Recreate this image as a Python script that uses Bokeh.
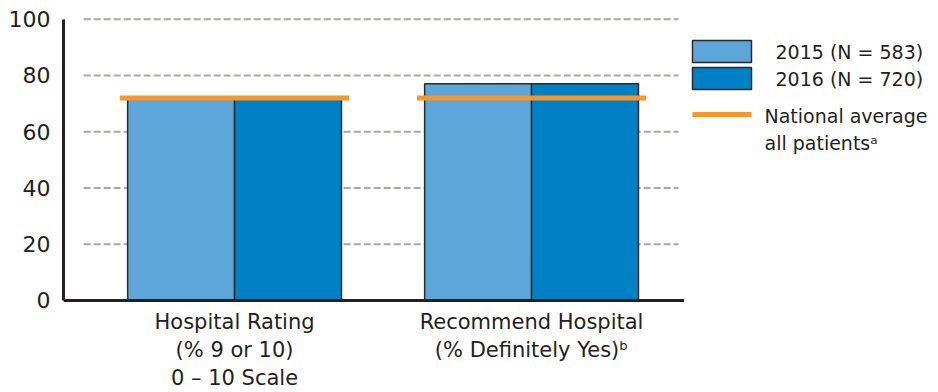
from bokeh.plotting import figure
from bokeh.models import Range1d, FixedTicker
from bokeh.layouts import row
from bokeh.embed import file_html
from bokeh.resources import INLINE
from bokeh.core.properties import value

# ---- data ----
categories = ["Hospital Rating", "Recommend Hospital"]
category_lines = [["Hospital Rating", "(% 9 or 10)", "0 \u2013 10 Scale"],
                  ["Recommend Hospital", "(% Definitely Yes)\u1d47"]]
vals_2015 = [72, 77]
vals_2016 = [72, 77]
national_avg = [72, 72]
y_ticks = [0, 20, 40, 60, 80, 100]
series_labels = ["2015 (N = 583)", "2016 (N = 720)"]
avg_label_lines = ["National average", "all patients\u1d43"]

# ---- style ----
FONT = "DejaVu Sans"
TXT = "#231f20"
C2015 = "#5ca6da"
C2016 = "#0081c6"
ORANGE = "#f7962b"
GRID = "#a9a9a3"
EDGE = "#2a2a2a"

xs = list(range(len(categories)))
bar_w = 0.36
avg_half = 0.386
X0, X1 = -0.576, 1.515

p = figure(width=684, height=392, x_range=Range1d(X0, X1), y_range=Range1d(-32.70, 106.62),
           output_backend="svg", toolbar_location=None,
           min_border_left=63, min_border_right=0, min_border_top=0, min_border_bottom=0)
p.outline_line_color = None
p.xgrid.visible = False
p.ygrid.visible = False
p.xaxis.visible = False

# dashed gridlines (start a little right of the axis)
g_ticks = [t for t in y_ticks if t > 0]
p.segment(x0=[-0.508] * len(g_ticks), x1=[1.495] * len(g_ticks), y0=g_ticks, y1=g_ticks,
          line_color=GRID, line_width=2, line_dash="7 3")

# bars
p.vbar(x=[x - bar_w / 2 for x in xs], top=vals_2015, width=bar_w, bottom=0,
       fill_color=C2015, line_color=EDGE, line_width=1.5)
p.vbar(x=[x + bar_w / 2 for x in xs], top=vals_2016, width=bar_w, bottom=0,
       fill_color=C2016, line_color=EDGE, line_width=1.5)

# national average lines
p.segment(x0=[x - avg_half for x in xs], x1=[x + avg_half for x in xs],
          y0=national_avg, y1=national_avg, line_color=ORANGE, line_width=5)

# x axis line at zero
p.segment(x0=[X0], x1=[X1], y0=[0], y1=[0], line_color=TXT, line_width=3)

# y axis
p.yaxis.ticker = FixedTicker(ticks=y_ticks)
p.yaxis.bounds = (0, 100)
p.yaxis.major_tick_line_color = None
p.yaxis.minor_tick_line_color = None
p.yaxis.major_tick_out = 0
p.yaxis.major_tick_in = 0
p.yaxis.major_label_standoff = 13
p.yaxis.major_label_text_font = FONT
p.yaxis.major_label_text_font_size = "22px"
p.yaxis.major_label_text_color = TXT
p.yaxis.axis_line_width = 3
p.yaxis.axis_line_color = TXT

# category labels below the axis
line_y = [-7.82, -17.77, -27.37]
lx, ly, lt = [], [], []
for x, lines in zip(xs, category_lines):
    for yy, t in zip(line_y, lines):
        lx.append(x)
        ly.append(yy)
        lt.append(t)
p.text(x=lx, y=ly, text=lt, text_align="center", text_baseline="middle",
       text_font=value(FONT), text_font_size="21px", text_color=TXT)

# ---- legend panel ----
lg = figure(width=254, height=392, x_range=Range1d(0, 254), y_range=Range1d(392, 0),
            output_backend="svg", toolbar_location=None,
            min_border=0, min_border_left=0, min_border_right=0, min_border_top=0, min_border_bottom=0)
lg.axis.visible = False
lg.grid.visible = False
lg.outline_line_color = None

sw_y = [51, 78]
lg.rect(x=[37.5, 37.5], y=sw_y, width=59, height=22, fill_color=[C2015, C2016],
        line_color=EDGE, line_width=1.5)
lg.text(x=[91, 91], y=sw_y, text=series_labels, text_baseline="middle",
        text_font=value(FONT), text_font_size="19px", text_color=TXT)
lg.segment(x0=[8], x1=[67], y0=[114], y1=[114], line_color=ORANGE, line_width=5)
lg.text(x=[80, 80], y=[115, 142], text=avg_label_lines, text_baseline="middle",
        text_font=value(FONT), text_font_size="19px", text_color=TXT)

layout = row(p, lg, spacing=0)
open("out.html", "w").write(file_html(layout, INLINE))
